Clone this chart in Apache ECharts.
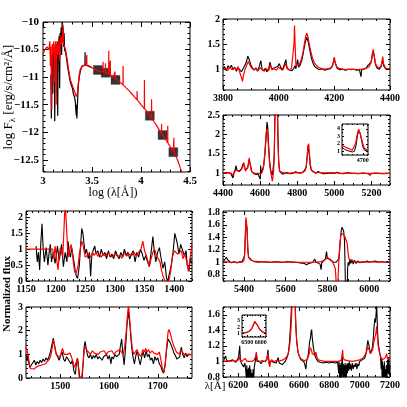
<!DOCTYPE html>
<html>
<head>
<meta charset="utf-8">
<script src="https://cdn.jsdelivr.net/npm/echarts@6/dist/echarts.min.js"></script>
<style>html,body{margin:0;padding:0;background:#fff}#chart{width:407px;height:407px}</style>
</head>
<body>
<div id="chart"></div>
<script>
// SED panel: log(lambda) vs log F
var sedBlack = [[3.08,-10.95],[3.085,-11.75],[3.09,-10.6],[3.095,-10.9],[3.1,-11.3],[3.105,-10.5],[3.11,-10.8],[3.115,-10.55],[3.12,-11.8],[3.125,-10.45],[3.13,-10.7],[3.135,-10.5],[3.14,-11.3],[3.145,-10.35],[3.15,-11.7],[3.155,-10.4],[3.16,-10.6],[3.165,-10.25],[3.17,-11.2],[3.175,-10.2],[3.18,-10.5],[3.185,-10.1],[3.19,-10.6],[3.195,-10.0],[3.2,-10.35],[3.205,-10.1],[3.21,-10.45],[3.215,-10.2],[3.22,-10.5],[3.23,-10.55],[3.24,-10.65],[3.25,-10.8],[3.26,-10.9],[3.27,-11.0],[3.28,-11.1],[3.29,-11.15],[3.3,-11.2],[3.31,-11.3],[3.32,-11.35],[3.33,-11.45],[3.335,-11.6],[3.34,-11.7],[3.343,-11.5],[3.346,-11.75],[3.35,-11.55],[3.355,-11.35],[3.36,-11.15],[3.37,-11.0],[3.38,-10.9],[3.39,-10.84],[3.4,-10.8],[3.41,-10.79],[3.42,-10.8],[3.428,-10.78],[3.429,-10.55],[3.43,-10.78],[3.44,-10.8],[3.46,-10.79],[3.48,-10.81],[3.5,-10.83]];
var sedRed = [[3.0,-10.58],[3.02,-10.5],[3.04,-10.45],[3.05,-10.42],[3.06,-10.5],[3.07,-10.35],[3.075,-10.8],[3.08,-10.45],[3.09,-11.6],[3.095,-10.4],[3.1,-10.6],[3.11,-10.35],[3.115,-11.1],[3.12,-10.5],[3.13,-10.35],[3.135,-11.5],[3.14,-10.4],[3.15,-10.6],[3.16,-10.3],[3.17,-10.7],[3.18,-10.25],[3.19,-10.4],[3.2,-10.2],[3.205,-10.05],[3.21,-10.4],[3.22,-10.45],[3.23,-10.5],[3.24,-10.6],[3.25,-10.72],[3.26,-10.85],[3.27,-10.95],[3.28,-11.05],[3.29,-11.1],[3.3,-11.15],[3.31,-11.2],[3.32,-11.25],[3.33,-11.3],[3.34,-11.35],[3.35,-11.3],[3.36,-11.12],[3.37,-10.95],[3.38,-10.86],[3.4,-10.8],[3.42,-10.78],[3.44,-10.78],[3.446,-10.79],[3.447,-10.6],[3.448,-10.79],[3.47,-10.81],[3.5,-10.83],[3.53,-10.86],[3.56,-10.88],[3.59,-10.9],[3.612,-10.91],[3.613,-10.72],[3.614,-10.91],[3.636,-10.92],[3.637,-10.75],[3.638,-10.92],[3.67,-10.95],[3.671,-10.52],[3.672,-10.95],[3.686,-10.96],[3.687,-10.7],[3.688,-10.96],[3.72,-11.0],[3.733,-11.02],[3.734,-10.9],[3.735,-11.02],[3.76,-11.06],[3.79,-11.1],[3.816,-11.14],[3.817,-10.8],[3.818,-11.14],[3.85,-11.2],[3.88,-11.25],[3.91,-11.31],[3.94,-11.37],[3.959,-11.41],[3.96,-11.25],[3.961,-11.41],[4.0,-11.5],[4.034,-11.57],[4.035,-11.05],[4.036,-11.57],[4.06,-11.62],[4.08,-11.68],[4.107,-11.74],[4.108,-11.4],[4.109,-11.74],[4.13,-11.8],[4.16,-11.88],[4.19,-11.97],[4.209,-12.02],[4.21,-11.85],[4.211,-12.02],[4.22,-12.05],[4.25,-12.13],[4.272,-12.19],[4.273,-11.88],[4.274,-12.19],[4.3,-12.27],[4.33,-12.35],[4.335,-12.37],[4.336,-12.1],[4.337,-12.37],[4.36,-12.45],[4.38,-12.54],[4.4,-12.64],[4.42,-12.74]];
var photLogLam = [3.56, 3.64, 3.74, 4.09, 4.22, 4.33];
var photLogF = [-10.87, -10.92, -11.05, -11.70, -12.05, -12.36];

// 3800-4400
var b1Black = [[3800,1.02],[3806,1.06],[3812,0.98],[3818,1.08],[3824,1.03],[3830,1.09],[3836,1.0],[3842,1.05],[3848,0.97],[3854,1.04],[3860,1.07],[3866,0.96],[3872,1.02],[3878,1.08],[3884,1.15],[3889,1.27],[3894,1.2],[3900,1.1],[3906,1.03],[3912,0.99],[3918,1.04],[3924,0.97],[3930,1.06],[3936,1.18],[3940,1.02],[3946,0.98],[3952,1.03],[3958,0.96],[3964,1.02],[3969,1.15],[3974,1.02],[3980,1.0],[3986,1.04],[3992,1.02],[3997,1.07],[4002,1.12],[4008,1.04],[4014,1.0],[4020,1.03],[4026,1.2],[4030,1.04],[4036,1.0],[4042,1.02],[4048,0.98],[4054,1.02],[4058,1.08],[4062,1.02],[4068,1.2],[4072,1.05],[4078,1.1],[4084,1.2],[4090,1.38],[4096,1.55],[4101,1.64],[4106,1.55],[4112,1.38],[4118,1.22],[4124,1.12],[4130,1.06],[4138,1.03],[4146,1.0],[4156,1.02],[4166,0.99],[4176,1.01],[4186,1.02],[4194,1.08],[4199,1.22],[4204,1.12],[4210,1.03],[4220,1.0],[4230,1.01],[4240,0.99],[4250,1.01],[4260,1.0],[4270,1.01],[4280,0.99],[4290,1.0],[4296,0.86],[4298,1.0],[4306,1.01],[4314,1.03],[4320,1.08],[4326,1.05],[4332,1.15],[4338,1.36],[4342,1.3],[4348,1.1],[4354,1.03],[4362,1.01],[4368,1.06],[4373,1.2],[4377,1.08],[4384,1.02],[4392,1.01],[4400,1.03]];
var b1Red = [[3800,1.0],[3808,1.03],[3816,0.98],[3824,1.05],[3832,1.0],[3840,1.04],[3848,1.0],[3854,1.06],[3860,0.95],[3866,0.85],[3870,0.77],[3874,0.9],[3880,1.02],[3886,1.1],[3891,1.16],[3896,1.1],[3902,1.04],[3910,1.0],[3918,1.02],[3926,0.98],[3934,1.04],[3940,1.0],[3948,0.97],[3956,1.02],[3964,0.98],[3970,1.1],[3976,1.0],[3984,1.02],[3992,0.99],[4000,1.05],[4006,1.02],[4014,0.99],[4020,1.02],[4026,1.12],[4030,1.02],[4038,1.0],[4046,1.02],[4052,1.05],[4055,1.5],[4057,1.87],[4059,1.5],[4062,1.08],[4068,1.05],[4074,1.1],[4080,1.18],[4086,1.3],[4092,1.5],[4097,1.66],[4101,1.72],[4105,1.66],[4110,1.5],[4116,1.35],[4122,1.22],[4130,1.12],[4140,1.06],[4150,1.03],[4165,1.01],[4180,1.02],[4192,1.06],[4197,1.15],[4200,1.25],[4203,1.15],[4208,1.06],[4220,1.02],[4240,1.0],[4260,1.01],[4280,1.0],[4300,1.01],[4315,1.03],[4325,1.06],[4333,1.15],[4337,1.3],[4340,1.4],[4343,1.3],[4348,1.12],[4356,1.04],[4366,1.05],[4371,1.15],[4374,1.26],[4377,1.12],[4384,1.03],[4392,1.02],[4400,1.01]];

// 4400-5300
var b2Black = [[4400,1.0],[4410,0.98],[4420,1.02],[4430,0.97],[4440,1.0],[4448,0.95],[4454,0.88],[4460,1.02],[4466,1.1],[4470,1.2],[4475,1.08],[4482,1.03],[4490,1.05],[4496,1.08],[4502,1.15],[4508,1.25],[4512,1.3],[4516,1.2],[4522,1.08],[4528,1.05],[4534,1.15],[4540,1.35],[4544,1.4],[4548,1.22],[4554,1.05],[4562,1.0],[4570,0.98],[4580,1.0],[4590,0.97],[4598,0.92],[4601,0.85],[4603,1.2],[4606,1.0],[4612,1.05],[4620,1.2],[4626,1.5],[4632,1.9],[4637,2.32],[4641,2.2],[4645,1.8],[4650,1.4],[4655,1.15],[4660,1.02],[4666,0.95],[4672,1.0],[4676,1.4],[4680,2.6],[4684,3.8],[4688,4.0],[4692,3.2],[4696,2.0],[4700,1.3],[4705,1.05],[4712,1.0],[4720,0.98],[4730,1.0],[4745,1.02],[4760,0.99],[4775,1.0],[4790,1.04],[4800,1.01],[4815,1.0],[4830,1.02],[4840,1.05],[4848,1.15],[4854,1.45],[4858,1.72],[4862,1.74],[4866,1.45],[4870,1.2],[4876,1.08],[4885,1.03],[4900,1.0],[4912,1.05],[4920,1.01],[4940,0.99],[4960,1.0],[4980,1.01],[5000,1.0],[5015,1.03],[5030,1.0],[5050,0.99],[5070,1.02],[5090,1.0],[5110,1.0],[5130,0.99],[5150,1.01],[5170,1.0],[5190,0.98],[5200,1.0],[5220,1.01],[5240,1.0],[5260,0.99],[5280,1.0],[5300,1.0]];
var b2Red = [[4400,1.02],[4415,1.0],[4430,1.02],[4445,1.0],[4452,0.94],[4458,1.0],[4468,1.08],[4474,1.12],[4480,1.06],[4490,1.05],[4500,1.1],[4508,1.2],[4512,1.28],[4516,1.18],[4522,1.06],[4530,1.08],[4536,1.2],[4541,1.4],[4546,1.25],[4552,1.08],[4560,1.02],[4575,1.0],[4590,1.0],[4600,0.98],[4608,1.0],[4616,1.1],[4622,1.35],[4628,1.7],[4633,2.05],[4637,2.14],[4641,2.0],[4646,1.6],[4652,1.2],[4658,1.0],[4663,0.88],[4666,0.8],[4669,0.9],[4673,1.05],[4677,1.6],[4681,2.8],[4685,3.9],[4689,3.6],[4693,2.6],[4697,1.7],[4701,1.2],[4706,1.05],[4715,1.0],[4730,1.01],[4750,1.0],[4770,1.01],[4790,1.02],[4810,1.01],[4830,1.03],[4842,1.06],[4849,1.18],[4854,1.45],[4858,1.7],[4862,1.76],[4866,1.5],[4870,1.25],[4876,1.1],[4885,1.04],[4900,1.02],[4920,1.02],[4950,1.01],[4980,1.02],[5010,1.01],[5040,1.0],[5070,1.01],[5100,1.0],[5130,1.0],[5160,1.0],[5185,1.0],[5192,0.94],[5196,1.0],[5220,1.0],[5250,1.0],[5280,1.0],[5300,1.0]];
var in1Black = [[4620,1.5],[4630,1.25],[4640,1.1],[4650,1.0],[4660,0.9],[4668,1.0],[4674,1.8],[4680,3.2],[4685,3.75],[4690,3.4],[4695,2.5],[4700,1.6],[4706,1.15],[4712,1.0],[4720,1.0]];
var in1Red = [[4620,1.8],[4630,1.6],[4640,1.45],[4650,1.3],[4660,1.15],[4666,1.2],[4672,2.0],[4678,3.2],[4684,3.95],[4689,3.7],[4694,2.9],[4700,2.0],[4706,1.4],[4712,1.15],[4720,1.1]];

// 1150-1430
var u1Black = [[1167,1.1],[1169,0.6],[1171,0.9],[1173,0.35],[1175,1.2],[1177,1.8],[1179,1.0],[1181,0.6],[1184,1.05],[1187,0.5],[1189,0.9],[1191,1.15],[1193,0.6],[1196,0.9],[1199,0.55],[1201,0.8],[1203,1.1],[1206,0.65],[1208,0.9],[1210,1.15],[1213,0.45],[1216,0.9],[1219,0.6],[1221,1.25],[1223,0.9],[1225,0.75],[1227,1.05],[1229,1.1],[1231,0.6],[1233,0.3],[1235,0.15],[1237,0.08],[1238,0.2],[1240,0.5],[1242,1.1],[1244,1.65],[1246,1.5],[1248,1.15],[1250,0.85],[1252,1.0],[1255,0.7],[1257,0.9],[1259,0.15],[1261,0.8],[1263,0.95],[1266,1.1],[1268,0.85],[1271,0.95],[1274,0.75],[1277,1.0],[1280,0.8],[1283,0.9],[1286,0.7],[1289,0.95],[1292,0.75],[1295,0.85],[1298,0.7],[1301,0.95],[1304,0.8],[1307,0.7],[1310,0.9],[1313,0.75],[1316,1.0],[1319,0.8],[1322,0.9],[1325,0.7],[1328,0.85],[1331,0.95],[1334,0.6],[1337,0.9],[1340,0.75],[1343,1.0],[1346,0.85],[1349,0.65],[1352,0.8],[1355,0.6],[1358,0.45],[1361,0.9],[1364,1.4],[1366,1.0],[1369,0.6],[1372,0.9],[1375,1.05],[1378,0.7],[1381,0.4],[1384,0.6],[1387,0.1],[1389,0.0],[1392,0.05],[1395,0.5],[1398,0.9],[1401,1.5],[1403,1.45],[1405,1.2],[1408,0.85],[1411,1.15],[1414,1.2],[1417,0.8],[1420,0.95],[1422,0.5],[1425,0.3],[1427,0.7],[1430,0.55]];
var u1Red = [[1150,1.0],[1195,1.0],[1197,0.7],[1199,1.1],[1201,1.15],[1203,0.5],[1204,0.35],[1206,0.8],[1208,1.05],[1210,1.1],[1212,0.75],[1214,1.6],[1216,2.5],[1218,1.8],[1220,1.1],[1222,0.75],[1224,1.0],[1226,1.15],[1228,0.95],[1230,0.55],[1232,0.3],[1234,0.22],[1236,0.35],[1238,0.5],[1240,0.85],[1242,1.05],[1244,1.25],[1246,1.15],[1248,0.95],[1250,0.75],[1253,0.8],[1256,0.85],[1259,0.75],[1262,0.9],[1265,0.8],[1268,0.9],[1271,0.78],[1274,0.85],[1277,0.75],[1280,0.85],[1284,0.78],[1288,0.9],[1292,0.8],[1296,0.75],[1300,0.85],[1304,0.78],[1308,0.8],[1312,0.72],[1316,0.88],[1320,0.78],[1324,0.85],[1328,0.8],[1332,0.9],[1336,0.8],[1340,0.9],[1344,1.0],[1347,1.25],[1350,0.95],[1353,0.8],[1356,0.6],[1358,0.45],[1361,0.7],[1364,0.9],[1367,1.0],[1370,0.8],[1373,0.85],[1376,0.6],[1379,0.3],[1382,0.1],[1385,0.0],[1388,0.0],[1391,0.0],[1394,0.3],[1397,0.75],[1400,0.95],[1403,1.0],[1406,0.85],[1409,0.9],[1412,0.95],[1415,0.7],[1418,0.85],[1421,0.6],[1424,0.3],[1427,0.75],[1430,1.15]];

// 1430-1770
var u2Black = [[1430,1.0],[1432,0.7],[1434,1.0],[1436,0.6],[1438,0.45],[1441,0.55],[1444,0.5],[1447,0.75],[1450,0.55],[1453,0.7],[1456,0.6],[1459,0.75],[1462,0.65],[1465,0.8],[1468,0.7],[1471,0.85],[1474,0.75],[1477,0.9],[1480,1.1],[1483,1.4],[1486,1.68],[1489,1.3],[1492,1.0],[1495,0.9],[1498,0.75],[1501,0.95],[1504,1.1],[1507,0.8],[1510,0.7],[1513,0.9],[1516,0.8],[1519,0.75],[1522,0.6],[1525,0.75],[1528,0.3],[1531,0.15],[1533,0.55],[1536,0.8],[1538,0.4],[1540,0.05],[1542,0.0],[1545,0.0],[1547,0.6],[1549,1.3],[1551,1.55],[1553,1.3],[1556,0.95],[1559,0.85],[1562,1.0],[1565,0.8],[1568,0.95],[1571,0.85],[1574,1.0],[1577,0.8],[1580,0.9],[1583,0.95],[1586,0.75],[1589,0.9],[1592,0.85],[1595,1.0],[1598,0.8],[1601,0.95],[1604,0.6],[1606,0.9],[1609,0.8],[1612,1.0],[1615,0.9],[1618,0.85],[1621,1.0],[1623,1.3],[1626,1.65],[1628,1.1],[1631,0.55],[1634,1.3],[1637,2.3],[1640,2.8],[1643,2.2],[1646,1.4],[1649,0.9],[1652,0.6],[1655,0.95],[1658,1.15],[1661,0.8],[1664,0.55],[1667,0.9],[1670,1.1],[1673,0.85],[1676,1.15],[1679,0.9],[1682,1.0],[1685,0.75],[1688,0.85],[1691,0.6],[1694,0.9],[1697,0.75],[1700,0.85],[1703,0.6],[1706,0.5],[1709,0.3],[1712,0.2],[1715,0.6],[1718,1.2],[1721,1.65],[1724,1.55],[1727,1.4],[1730,1.25],[1733,1.05],[1736,0.95],[1739,0.8],[1742,0.75],[1745,0.9],[1748,1.3],[1751,1.0],[1754,0.85],[1757,1.05],[1760,0.9],[1763,1.0],[1766,0.95],[1770,0.98]];
var u2Red = [[1430,1.3],[1433,1.1],[1436,0.7],[1439,0.4],[1442,0.45],[1446,0.38],[1450,0.45],[1454,0.5],[1458,0.45],[1462,0.55],[1466,0.6],[1470,0.6],[1474,0.7],[1478,0.8],[1481,0.95],[1484,1.3],[1486,1.6],[1488,1.45],[1491,1.1],[1494,0.95],[1497,0.9],[1500,0.9],[1503,1.15],[1505,1.25],[1508,1.0],[1511,0.95],[1514,1.0],[1517,0.95],[1520,1.05],[1523,0.9],[1526,0.7],[1529,0.45],[1532,0.6],[1535,0.85],[1537,0.5],[1539,0.05],[1541,0.0],[1544,0.0],[1546,0.4],[1548,0.9],[1550,1.3],[1553,1.35],[1556,1.15],[1559,1.1],[1562,1.0],[1566,1.15],[1570,1.05],[1574,1.1],[1578,1.0],[1582,1.1],[1586,1.05],[1590,1.15],[1594,1.0],[1598,1.1],[1602,1.05],[1606,1.15],[1610,1.0],[1614,1.1],[1618,1.05],[1622,1.2],[1626,1.25],[1629,1.0],[1632,1.3],[1635,1.9],[1638,2.7],[1640,3.1],[1642,2.6],[1645,1.8],[1648,1.2],[1651,1.0],[1654,1.1],[1657,1.2],[1660,1.05],[1663,1.1],[1666,0.9],[1669,1.2],[1672,1.1],[1675,1.25],[1678,1.1],[1681,1.2],[1684,1.05],[1688,1.15],[1692,1.05],[1696,1.1],[1700,1.0],[1703,1.1],[1706,0.8],[1709,0.45],[1712,0.25],[1715,0.5],[1718,1.3],[1721,1.95],[1723,2.05],[1726,1.85],[1729,1.6],[1732,1.4],[1735,1.25],[1738,1.1],[1741,1.05],[1744,1.0],[1747,1.2],[1750,1.1],[1754,1.0],[1758,1.05],[1762,1.0],[1766,1.02],[1770,1.0]];

// 5300-6100
var r1Black = [[5300,1.0],[5308,1.02],[5316,1.08],[5322,1.04],[5330,1.01],[5340,0.99],[5350,1.01],[5360,1.0],[5370,0.99],[5380,1.01],[5390,1.0],[5398,1.02],[5403,1.1],[5407,1.4],[5410,1.68],[5413,1.7],[5416,1.5],[5419,1.2],[5423,1.08],[5430,1.06],[5438,1.03],[5450,1.01],[5470,1.0],[5490,1.01],[5510,1.0],[5530,1.0],[5550,1.01],[5570,1.0],[5590,1.0],[5610,1.01],[5630,1.0],[5650,1.0],[5670,0.99],[5690,0.98],[5700,0.96],[5710,0.98],[5720,0.99],[5730,1.0],[5740,1.05],[5745,1.0],[5755,0.99],[5765,0.97],[5770,0.88],[5773,0.99],[5780,1.02],[5790,1.05],[5796,1.17],[5800,1.06],[5806,1.08],[5812,1.05],[5820,1.02],[5828,1.0],[5836,1.0],[5842,1.0],[5846,0.99],[5850,1.0],[5854,1.05],[5858,1.15],[5862,1.35],[5866,1.5],[5870,1.56],[5874,1.57],[5878,1.5],[5882,1.35],[5885,0.9],[5887,0.55],[5889,0.45],[5891,0.7],[5893,0.5],[5895,0.45],[5897,0.9],[5900,1.0],[5904,0.95],[5908,1.05],[5912,0.98],[5918,1.04],[5924,0.97],[5930,1.03],[5938,0.98],[5946,1.02],[5956,0.99],[5966,1.01],[5976,1.0],[5990,1.02],[6000,1.0],[6015,1.01],[6030,1.02],[6045,1.0],[6060,1.01],[6075,1.0],[6090,1.01],[6100,1.0]];
var r1Red = [[5300,1.0],[5315,1.01],[5330,1.0],[5350,1.0],[5370,1.0],[5390,1.0],[5400,1.02],[5404,1.15],[5407,1.45],[5410,1.72],[5412,1.75],[5415,1.55],[5418,1.25],[5422,1.08],[5430,1.04],[5445,1.02],[5470,1.01],[5500,1.01],[5530,1.0],[5560,1.01],[5590,1.0],[5620,1.01],[5650,1.0],[5680,1.0],[5710,1.0],[5740,1.0],[5770,1.01],[5790,1.04],[5800,1.08],[5806,1.06],[5815,1.03],[5825,1.01],[5833,0.98],[5838,0.9],[5841,0.75],[5843,0.6],[5846,0.55],[5849,0.6],[5852,0.8],[5856,1.1],[5860,1.3],[5864,1.42],[5869,1.46],[5874,1.47],[5879,1.44],[5885,1.4],[5890,1.38],[5895,1.3],[5899,1.15],[5904,1.05],[5912,1.02],[5930,1.01],[5950,1.0],[5970,1.01],[5990,1.0],[6010,1.01],[6030,1.0],[6060,1.01],[6080,1.0],[6100,1.0]];

// 6100-7200
var r2Black = [[6100,1.0],[6110,1.02],[6118,1.07],[6124,1.0],[6135,0.99],[6145,1.01],[6155,1.0],[6165,1.02],[6175,1.0],[6185,0.99],[6195,1.01],[6202,1.05],[6206,1.12],[6210,1.2],[6214,1.05],[6220,0.98],[6228,1.0],[6236,0.93],[6244,0.98],[6250,0.88],[6254,0.75],[6257,0.95],[6260,0.72],[6263,0.9],[6266,0.7],[6269,0.92],[6272,0.74],[6276,0.95],[6280,0.72],[6283,0.9],[6286,0.7],[6290,0.85],[6294,0.72],[6298,0.9],[6302,0.75],[6306,0.93],[6310,0.97],[6316,1.05],[6320,1.1],[6324,1.0],[6332,0.98],[6340,1.0],[6350,0.97],[6360,1.0],[6370,0.99],[6380,1.0],[6390,1.03],[6396,1.15],[6400,1.05],[6406,0.97],[6412,0.98],[6420,1.02],[6430,0.99],[6440,1.0],[6450,0.98],[6458,1.0],[6464,1.05],[6470,0.98],[6480,1.0],[6490,0.96],[6496,0.94],[6502,0.98],[6510,1.0],[6520,1.04],[6530,1.1],[6538,1.25],[6546,1.5],[6552,1.75],[6558,2.2],[6563,2.6],[6568,2.3],[6574,1.8],[6580,1.45],[6586,1.25],[6594,1.12],[6604,1.06],[6614,1.02],[6624,1.0],[6632,1.0],[6640,0.95],[6646,0.9],[6650,1.0],[6658,1.05],[6664,1.12],[6670,1.25],[6676,1.3],[6680,1.38],[6684,1.41],[6688,1.3],[6694,1.2],[6700,1.12],[6708,1.06],[6716,1.03],[6726,1.0],[6740,0.99],[6760,0.98],[6780,0.99],[6800,0.98],[6820,0.99],[6840,0.98],[6855,0.99],[6862,0.85],[6865,1.0],[6868,0.78],[6871,0.95],[6874,0.76],[6877,0.98],[6880,0.78],[6883,1.0],[6886,1.1],[6889,0.8],[6892,0.97],[6895,0.76],[6898,0.95],[6901,0.8],[6904,0.98],[6907,0.78],[6910,0.95],[6913,0.8],[6916,0.97],[6920,0.85],[6924,0.98],[6928,0.88],[6932,1.0],[6936,0.9],[6940,0.97],[6946,0.88],[6952,0.98],[6958,0.9],[6964,0.96],[6970,0.93],[6976,0.98],[6982,0.9],[6988,0.97],[6994,0.94],[7000,1.0],[7008,0.98],[7016,1.02],[7024,1.0],[7032,1.04],[7040,1.08],[7048,1.18],[7054,1.27],[7060,1.22],[7066,1.15],[7072,1.1],[7078,1.12],[7084,1.18],[7090,1.3],[7095,1.45],[7100,1.55],[7104,1.5],[7108,1.6],[7112,1.75],[7116,1.5],[7120,1.3],[7126,1.18],[7132,1.2],[7138,1.05],[7142,0.9],[7145,1.05],[7148,0.8],[7151,1.0],[7154,0.78],[7157,0.95],[7160,0.8],[7163,1.0],[7166,0.78],[7169,0.9],[7172,0.8],[7176,0.95],[7180,0.8],[7184,1.02],[7188,0.85],[7192,1.05],[7196,0.82],[7200,0.95]];
var r2Red = [[6100,1.02],[6115,1.0],[6130,1.01],[6150,1.0],[6170,1.01],[6190,1.0],[6205,1.03],[6210,1.06],[6215,1.0],[6230,1.01],[6245,1.04],[6252,1.06],[6258,1.0],[6270,1.01],[6290,1.0],[6305,1.02],[6314,1.06],[6320,1.12],[6325,1.02],[6340,1.0],[6360,1.01],[6375,1.0],[6388,1.03],[6394,1.1],[6398,1.06],[6404,0.96],[6408,0.93],[6412,0.98],[6420,1.02],[6435,1.0],[6450,1.01],[6465,1.0],[6480,1.01],[6495,1.02],[6510,1.04],[6522,1.07],[6532,1.12],[6540,1.22],[6548,1.42],[6554,1.7],[6558,2.2],[6563,2.8],[6568,2.4],[6573,1.9],[6578,1.55],[6584,1.3],[6592,1.15],[6600,1.08],[6610,1.04],[6620,1.02],[6635,1.01],[6650,1.02],[6660,1.05],[6668,1.1],[6674,1.18],[6678,1.2],[6682,1.15],[6688,1.1],[6694,1.08],[6700,1.12],[6706,1.08],[6712,1.12],[6718,1.06],[6728,1.02],[6745,1.01],[6770,1.0],[6800,1.0],[6830,1.0],[6860,1.0],[6880,1.02],[6885,1.08],[6888,1.15],[6891,1.05],[6900,1.02],[6920,1.01],[6950,1.0],[6980,1.01],[7000,1.02],[7020,1.04],[7035,1.08],[7045,1.12],[7052,1.18],[7058,1.2],[7064,1.15],[7070,1.1],[7078,1.1],[7086,1.15],[7094,1.25],[7100,1.3],[7106,1.35],[7112,1.45],[7116,1.35],[7122,1.2],[7130,1.12],[7140,1.05],[7150,1.02],[7160,1.0],[7170,1.05],[7178,1.1],[7184,1.03],[7192,1.02],[7200,1.05]];
var in2Black = [[6460,1.05],[6480,1.1],[6500,1.2],[6520,1.4],[6535,1.8],[6548,2.4],[6556,2.8],[6563,2.95],[6570,2.7],[6580,2.1],[6592,1.6],[6605,1.3],[6620,1.15],[6640,1.1]];
var in2Red = [[6460,1.1],[6480,1.15],[6500,1.25],[6520,1.45],[6535,1.85],[6548,2.45],[6556,2.85],[6563,3.0],[6570,2.75],[6580,2.15],[6592,1.65],[6605,1.35],[6620,1.2],[6640,1.15]];

var FONT = '"Liberation Serif", "DejaVu Serif", serif';
var grids = [], xAxes = [], yAxes = [], series = [];

function ticksFrom(min, max, step) {
  var out = [], i0 = Math.ceil(min / step - 1e-6), i1 = Math.floor(max / step + 1e-6);
  for (var i = i0; i <= i1; i++) out.push(+(i * step).toFixed(6));
  return out;
}
function fmt(v) { return v < 0 ? '\u2212' + (-v) : String(v); }

function axis(g, range, pos, ticks, len, showLab, labVals, fs, margin) {
  return {
    gridIndex: g, type: 'value', min: range[0], max: range[1], position: pos,
    axisLine: { show: false, onZero: false }, splitLine: { show: false },
    axisTick: { show: true, inside: true, length: len, customValues: ticks, lineStyle: { color: '#000', width: 1 } },
    axisLabel: { show: showLab, customValues: labVals, margin: margin, fontSize: fs, fontFamily: FONT,
      fontWeight: 'bold', color: '#000', formatter: fmt, showMinLabel: true, showMaxLabel: true }
  };
}

function panel(p) {
  var g = grids.length;
  grids.push({ left: p.box[0], top: p.box[1], width: p.box[2], height: p.box[3], show: true,
    borderColor: '#000', borderWidth: 1, backgroundColor: 'rgba(0,0,0,0)', outerBoundsMode: 'none', z: p.z || 0 });
  var fs = p.fs || 10, tl = p.tick || 4, m = p.margin || 3;
  var xi = xAxes.length, yi = yAxes.length;
  var xMin = ticksFrom(p.x[0], p.x[1], p.xMinor), yMin = ticksFrom(p.y[0], p.y[1], p.yMinor);
  ['bottom', 'top'].forEach(function (pos) {
    xAxes.push(axis(g, p.x, pos, p.xTicks, tl, pos === 'bottom', p.xTicks, fs, m));
    xAxes.push(axis(g, p.x, pos, xMin, tl / 2, false, p.xTicks, fs, m));
  });
  ['left', 'right'].forEach(function (pos) {
    yAxes.push(axis(g, p.y, pos, p.yTicks, tl, pos === 'left', p.yTicks, fs, m));
    yAxes.push(axis(g, p.y, pos, yMin, tl / 2, false, p.yTicks, fs, m));
  });
  p.lines.forEach(function (l) {
    series.push({ type: 'line', xAxisIndex: xi, yAxisIndex: yi, data: l[0], showSymbol: false, symbol: 'none',
      lineStyle: { color: l[1], width: l[2] }, silent: true, z: (p.z || 0) + 2 });
  });
  return { xi: xi, yi: yi };
}

var sed = panel({ box: [43, 22, 147, 150], x: [3, 4.5], y: [-12.72, -10], xTicks: [3, 3.5, 4, 4.5],
  yTicks: [-12.5, -12, -11.5, -11, -10.5, -10], xMinor: 0.1, yMinor: 0.1, fs: 11, tick: 5, margin: 4,
  lines: [[sedBlack, '#000', 1.2], [sedRed, '#ff0000', 1.2]] });
series.push({ type: 'scatter', xAxisIndex: sed.xi, yAxisIndex: sed.yi, symbol: 'rect', symbolSize: 9,
  itemStyle: { color: '#000', borderColor: '#444', borderWidth: 0.5 }, z: 1, silent: true,
  data: photLogLam.map(function (x, i) { return [x, photLogF[i]]; }) });

panel({ box: [223, 19, 167, 71], x: [3800, 4400], y: [0.6, 2], xTicks: [3800, 4000, 4200, 4400],
  yTicks: [1, 1.5, 2], xMinor: 50, yMinor: 0.1, lines: [[b1Black, '#000', 1.1], [b1Red, '#ff0000', 1.2]] });
panel({ box: [223, 115, 167, 70], x: [4400, 5300], y: [0.7, 2.5], xTicks: [4400, 4600, 4800, 5000, 5200],
  yTicks: [1, 1.5, 2, 2.5], xMinor: 50, yMinor: 0.1, lines: [[b2Black, '#000', 1.1], [b2Red, '#ff0000', 1.2]] });
panel({ box: [342, 124, 26, 31], x: [4620, 4720], y: [0.5, 4.65], xTicks: [4700], yTicks: [1, 2, 3, 4],
  xMinor: 20, yMinor: 0.5, fs: 6, tick: 2, margin: 2, z: 5, lines: [[in1Black, '#000', 1], [in1Red, '#ff0000', 1.2]] });
panel({ box: [26, 211, 166, 70], x: [1150, 1430], y: [0, 2.2], xTicks: [1150, 1200, 1250, 1300, 1350, 1400],
  yTicks: [0, 0.5, 1, 1.5, 2], xMinor: 10, yMinor: 0.1, lines: [[u1Black, '#000', 1.1], [u1Red, '#ff0000', 1.2]] });
panel({ box: [223, 211, 167, 70], x: [5300, 6100], y: [0.7, 1.82], xTicks: [5400, 5600, 5800, 6000],
  yTicks: [0.8, 1, 1.2, 1.4, 1.6, 1.8], xMinor: 50, yMinor: 0.05, lines: [[r1Black, '#000', 1.1], [r1Red, '#ff0000', 1.2]] });
panel({ box: [26, 307, 166, 71], x: [1430, 1770], y: [0, 3], xTicks: [1500, 1600, 1700],
  yTicks: [0, 1, 2, 3], xMinor: 20, yMinor: 0.2, lines: [[u2Black, '#000', 1.1], [u2Red, '#ff0000', 1.2]] });
panel({ box: [223, 307, 167, 70], x: [6100, 7200], y: [0.8, 1.7], xTicks: [6200, 6400, 6600, 6800, 7000, 7200],
  yTicks: [0.8, 1, 1.2, 1.4, 1.6], xMinor: 50, yMinor: 0.05, lines: [[r2Black, '#000', 1.1], [r2Red, '#ff0000', 1.2]] });
panel({ box: [242, 315, 24, 22], x: [6460, 6640], y: [0.5, 3.8], xTicks: [6500, 6600], yTicks: [1, 2, 3],
  xMinor: 20, yMinor: 0.5, fs: 6, tick: 2, margin: 2, z: 5, lines: [[in2Black, '#000', 1], [in2Red, '#ff0000', 1.2]] });

var chart = echarts.init(document.getElementById('chart'), null, { renderer: 'canvas' });
chart.setOption({
  animation: false,
  backgroundColor: '#fff',
  grid: grids, xAxis: xAxes, yAxis: yAxes, series: series,
  graphic: [
    { type: 'text', x: 9, y: 97, rotation: Math.PI / 2,
      style: { text: '{a|log F}{s|\u03bb}{a| [erg/s/cm\u00b2/\u00c5]}', align: 'center', verticalAlign: 'middle',
        rich: { a: { fontSize: 13, fontFamily: FONT, fill: '#000', lineHeight: 16, verticalAlign: 'middle' },
                s: { fontSize: 9, fontFamily: FONT, fill: '#000', lineHeight: 10, verticalAlign: 'bottom' } } } },
    { type: 'text', x: 113, y: 193, style: { text: 'log (\u03bb[\u00c5])', font: '12px ' + FONT, fill: '#000', align: 'center', verticalAlign: 'middle' } },
    { type: 'text', x: 7, y: 294, rotation: Math.PI / 2, style: { text: 'Normalized flux', font: 'bold 11px ' + FONT, fill: '#000', align: 'center', verticalAlign: 'middle' } },
    { type: 'text', x: 215, y: 386, style: { text: '\u03bb[\u00c5]', font: '11px ' + FONT, fill: '#000', align: 'center', verticalAlign: 'middle' } }
  ]
});
</script>
</body>
</html>
